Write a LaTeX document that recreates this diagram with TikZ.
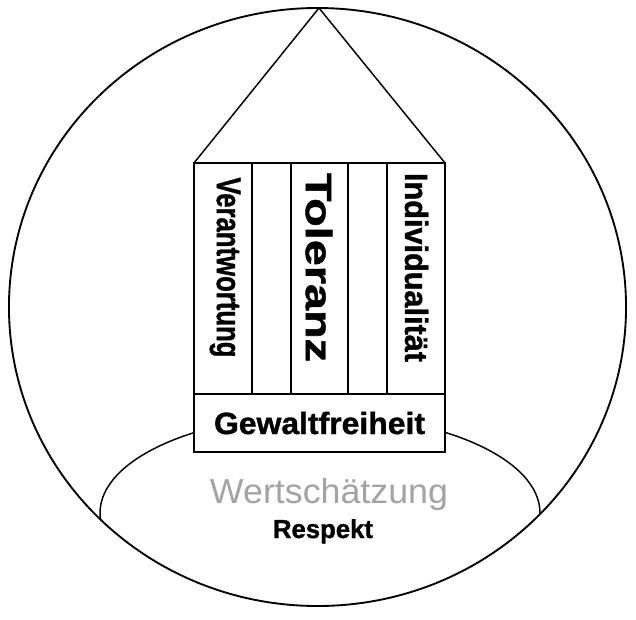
\documentclass[tikz,border=0pt]{standalone}
\usepackage{fontspec}
\setmainfont{Liberation Sans}
\usepackage{graphicx}
\definecolor{softgray}{HTML}{A3A3A3}
\newcommand{\fitbold}[3]{\resizebox{#1}{\height}{\fontsize{#2}{#2}\selectfont\bfseries\addfontfeatures{FakeBold=1.2}#3}}
\newcommand{\fitplain}[3]{\resizebox{#1}{\height}{\fontsize{#2}{#2}\selectfont #3}}
\tikzset{
  outline/.style={line width=1.4pt},
  thinline/.style={line width=1.1pt},
  part/.style={draw, line width=1.1pt, fill=white},
  vtext/.style={rotate=-90, inner sep=0pt},
  htext/.style={inner sep=0pt, anchor=base},
}
\begin{document}
\begin{tikzpicture}[x=0.75pt,y=-0.75pt]
\useasboundingbox (0,0) rectangle (636,619);
\coordinate (C) at (317.5,307);
\coordinate (E) at (320,513);
% outer circle
\draw[outline] (C) ellipse [x radius=231.4pt, y radius=224.25pt];
% inner ellipse, clipped by the circle
\begin{scope}
  \clip (C) ellipse [x radius=231.4pt, y radius=224.25pt];
  \draw[thinline] (E) ellipse [x radius=165pt, y radius=73.5pt];
\end{scope}
% roof
\coordinate (apex) at (319,8);
\coordinate (rl) at (194,163);
\coordinate (rr) at (445,163);
\draw[thinline] (rl) -- (apex) -- (rr);
% pillars
\draw[part] (194,163) rectangle (252,394);
\draw[part] (252,163) rectangle (291,394);
\draw[part] (291,163) rectangle (348,394);
\draw[part] (348,163) rectangle (387,394);
\draw[part] (387,163) rectangle (445,394);
% base
\draw[part] (194,394) rectangle (445,452);
% texts
\node[vtext] (verantwortung) at (225,267.5) {\fitbold{135pt}{25.5pt}{Verantwortung}};
\node[vtext] (toleranz) at (319,267.5) {\fitbold{141.75pt}{27.5pt}{Toleranz}};
\node[vtext] (individualitaet) at (416.5,267.5) {\fitbold{141.75pt}{24pt}{Individualität}};
\node[htext] (gewaltfreiheit) at (319.5,434) {\fitbold{158.25pt}{23pt}{Gewaltfreiheit}};
\node[htext, text=softgray] (wertschaetzung) at (329,503) {\fitplain{178.5pt}{26pt}{Wertschätzung}};
\node[htext] (respekt) at (323,538) {\fitbold{75pt}{19.5pt}{Respekt}};
\end{tikzpicture}
\end{document}
